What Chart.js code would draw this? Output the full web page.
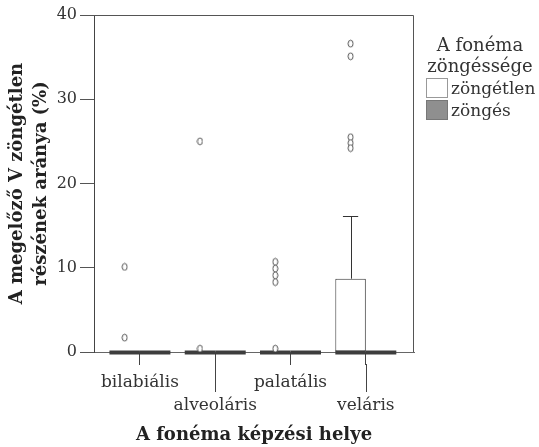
<!DOCTYPE html>
<html><head><meta charset="utf-8">
<script src="https://cdn.jsdelivr.net/npm/chart.js@4/dist/chart.umd.min.js"></script>
<style>html,body{margin:0;padding:0;background:#fff;}#wrap{width:539px;height:447px;}</style>
</head><body><div id="wrap"><canvas id="c" width="539" height="447"></canvas></div>
<script>
// ---- data ----
const categories = ['bilabiális', 'alveoláris', 'palatális', 'veláris'];
const seriesNames = ['zöngétlen', 'zöngés'];
const yTicks = [0, 10, 20, 30, 40];
const yTitle = ['A megelőző V zöngétlen', 'részének aránya (%)'];
const xTitle = 'A fonéma képzési helye';
const legendTitle = ['A fonéma', 'zöngéssége'];

const zongetlenMin = [0, 0, 0, 0];
const zongetlenQ1 = [0, 0, 0, 0];
const zongetlenMedian = [0, 0, 0, 0];
const zongetlenQ3 = [0, 0, 0, 8.7];
const zongetlenMax = [0, 0, 0, 16.2];
const zongetlenOutliers = [[10.1, 1.7], [25.0, 0.4], [10.7, 9.9, 9.1, 8.3, 0.4], [36.6, 35.1, 25.5, 24.8, 24.2]];

const zongesMin = [0, 0, 0, 0];
const zongesQ1 = [0, 0, 0, 0];
const zongesMedian = [0, 0, 0, 0];
const zongesQ3 = [0, 0, 0, 0];
const zongesMax = [0, 0, 0, 0];
const zongesOutliers = [[], [], [], []];

// ---- style ----
const FONT = "'DejaVu Serif', 'Liberation Serif', serif";
const TEXT = '#333';
const CAT_PCT = 0.81;
const boxFill = ['#ffffff', '#8f8f8f'];

function ellipseMarker() {
  const c = document.createElement('canvas');
  c.width = 7; c.height = 9;
  const g = c.getContext('2d');
  g.beginPath();
  g.ellipse(3.5, 4.5, 2.5, 3.4, 0, 0, Math.PI * 2);
  g.fillStyle = '#fff'; g.fill();
  g.lineWidth = 1; g.strokeStyle = '#555'; g.stroke();
  return c;
}
const marker = ellipseMarker();

function boxDataset(idx, q1, q3, min, med, max) {
  return {
    type: 'bar',
    label: seriesNames[idx],
    data: categories.map((c, i) => ({ x: i, y: [q1[i], q3[i]] })),
    stats: { min, q1, med, q3, max },
    backgroundColor: boxFill[idx],
    borderColor: '#333',
    borderWidth: 1,
    borderSkipped: false,
    categoryPercentage: CAT_PCT,
    barPercentage: 1,
    order: 1
  };
}
function outlierDataset(idx, outs) {
  const off = (idx === 0 ? -1 : 1) * CAT_PCT / 4;
  const pts = [];
  outs.forEach((arr, i) => arr.forEach(v => pts.push({ x: i + off, y: v })));
  return {
    type: 'scatter',
    label: seriesNames[idx] + ' outliers',
    data: pts,
    pointStyle: marker,
    pointRadius: 4,
    order: 0
  };
}

const boxPlugin = {
  id: 'boxes',
  afterDatasetDraw(chart, args) {
    const ds = chart.data.datasets[args.index];
    if (!ds.stats) return;
    const ctx = chart.ctx, ys = chart.scales.y, st = ds.stats;
    args.meta.data.forEach((el, j) => {
      const x = el.x, w = el.width;
      ctx.save();
      ctx.strokeStyle = '#333'; ctx.lineWidth = 1;
      const xc = Math.round(x) + 0.5;
      if (st.max[j] > st.q3[j]) {
        const a = ys.getPixelForValue(st.q3[j]), b = Math.round(ys.getPixelForValue(st.max[j])) + 0.5;
        ctx.beginPath(); ctx.moveTo(xc, a); ctx.lineTo(xc, b);
        ctx.moveTo(x - w / 4, b); ctx.lineTo(x + w / 4, b); ctx.stroke();
      }
      if (st.min[j] < st.q1[j]) {
        const a = ys.getPixelForValue(st.q1[j]), b = Math.round(ys.getPixelForValue(st.min[j])) + 0.5;
        ctx.beginPath(); ctx.moveTo(xc, a); ctx.lineTo(xc, b);
        ctx.moveTo(x - w / 4, b); ctx.lineTo(x + w / 4, b); ctx.stroke();
      }
      const m = ys.getPixelForValue(st.med[j]) + 0.5;
      ctx.strokeStyle = '#3d3d3d'; ctx.lineWidth = 4;
      ctx.beginPath(); ctx.moveTo(x - w / 2, m); ctx.lineTo(x + w / 2, m); ctx.stroke();
      ctx.restore();
    });
  },
  afterDraw(chart) {
    const ctx = chart.ctx, a = chart.chartArea, xs = chart.scales.x;
    ctx.save();
    ctx.strokeStyle = '#555'; ctx.lineWidth = 1;
    const t = Math.round(a.top) + 0.5, r = Math.round(a.right) - 0.5;
    ctx.beginPath();
    ctx.moveTo(a.left, t); ctx.lineTo(r, t); ctx.lineTo(r, a.bottom);
    ctx.stroke();
    // long ticks for staggered labels
    ctx.strokeStyle = '#444';
    categories.forEach((c, i) => {
      if (i % 2 === 1) {
        const px = Math.round(xs.getPixelForValue(i)) + 0.5;
        ctx.beginPath(); ctx.moveTo(px, a.bottom + 12); ctx.lineTo(px, a.bottom + 40); ctx.stroke();
      }
    });
    // legend
    ctx.fillStyle = TEXT;
    ctx.font = '18px ' + FONT;
    ctx.textAlign = 'center'; ctx.textBaseline = 'alphabetic';
    ctx.fillText(legendTitle[0], 480, 51);
    ctx.fillText(legendTitle[1], 480, 72);
    ctx.font = '17px ' + FONT;
    ctx.textAlign = 'left';
    seriesNames.forEach((n, i) => {
      const by = 78 + i * 22;
      ctx.fillStyle = boxFill[i];
      ctx.fillRect(426, by, 22, 20);
      ctx.strokeStyle = i === 0 ? '#999' : '#777';
      ctx.strokeRect(426.5, by + 0.5, 21, 19);
      ctx.fillStyle = TEXT;
      ctx.fillText(n, 451, by + 16);
    });
    ctx.restore();
  }
};

new Chart(document.getElementById('c'), {
  type: 'bar',
  data: {
    datasets: [
      boxDataset(0, zongetlenQ1, zongetlenQ3, zongetlenMin, zongetlenMedian, zongetlenMax),
      boxDataset(1, zongesQ1, zongesQ3, zongesMin, zongesMedian, zongesMax),
      outlierDataset(0, zongetlenOutliers),
      outlierDataset(1, zongesOutliers)
    ]
  },
  options: {
    responsive: false,
    devicePixelRatio: 1,
    animation: false,
    layout: { padding: { top: 15, right: 125, left: 0, bottom: 0 } },
    plugins: { legend: { display: false }, tooltip: { enabled: false } },
    scales: {
      x: {
        type: 'linear', min: -0.61, max: 3.64, offset: false,
        afterBuildTicks: s => { s.ticks = categories.map((c, i) => ({ value: i })); },
        afterFit: s => { s.height = 95; },
        ticks: {
          autoSkip: false, maxRotation: 0, padding: 6, color: TEXT,
          font: { family: FONT, size: 17, lineHeight: 1.35 },
          callback: (v, i) => (i % 2 ? ['', categories[i]] : categories[i])
        },
        grid: { offset: false, drawOnChartArea: false, drawTicks: true, tickLength: 13, color: '#444' },
        border: { display: true, color: '#666' },
        title: {
          display: true, text: xTitle, color: '#222',
          font: { family: FONT, size: 18, weight: 'bold' },
          padding: { top: 0, bottom: 1 }
        }
      },
      y: {
        type: 'linear', min: 0, max: 40,
        afterBuildTicks: s => { s.ticks = yTicks.map(v => ({ value: v })); },
        afterFit: s => { s.width = 94; },
        ticks: { color: TEXT, padding: 3, font: { family: FONT, size: 16 } },
        grid: { drawOnChartArea: false, drawTicks: true, tickLength: 14, color: '#555' },
        border: { display: true, color: '#444' },
        title: {
          display: true, text: yTitle, color: '#222',
          font: { family: FONT, size: 18, weight: 'bold', lineHeight: 1.35 },
          padding: { top: 5, bottom: 0 }
        }
      }
    }
  },
  plugins: [boxPlugin]
});
</script>
</body></html>
